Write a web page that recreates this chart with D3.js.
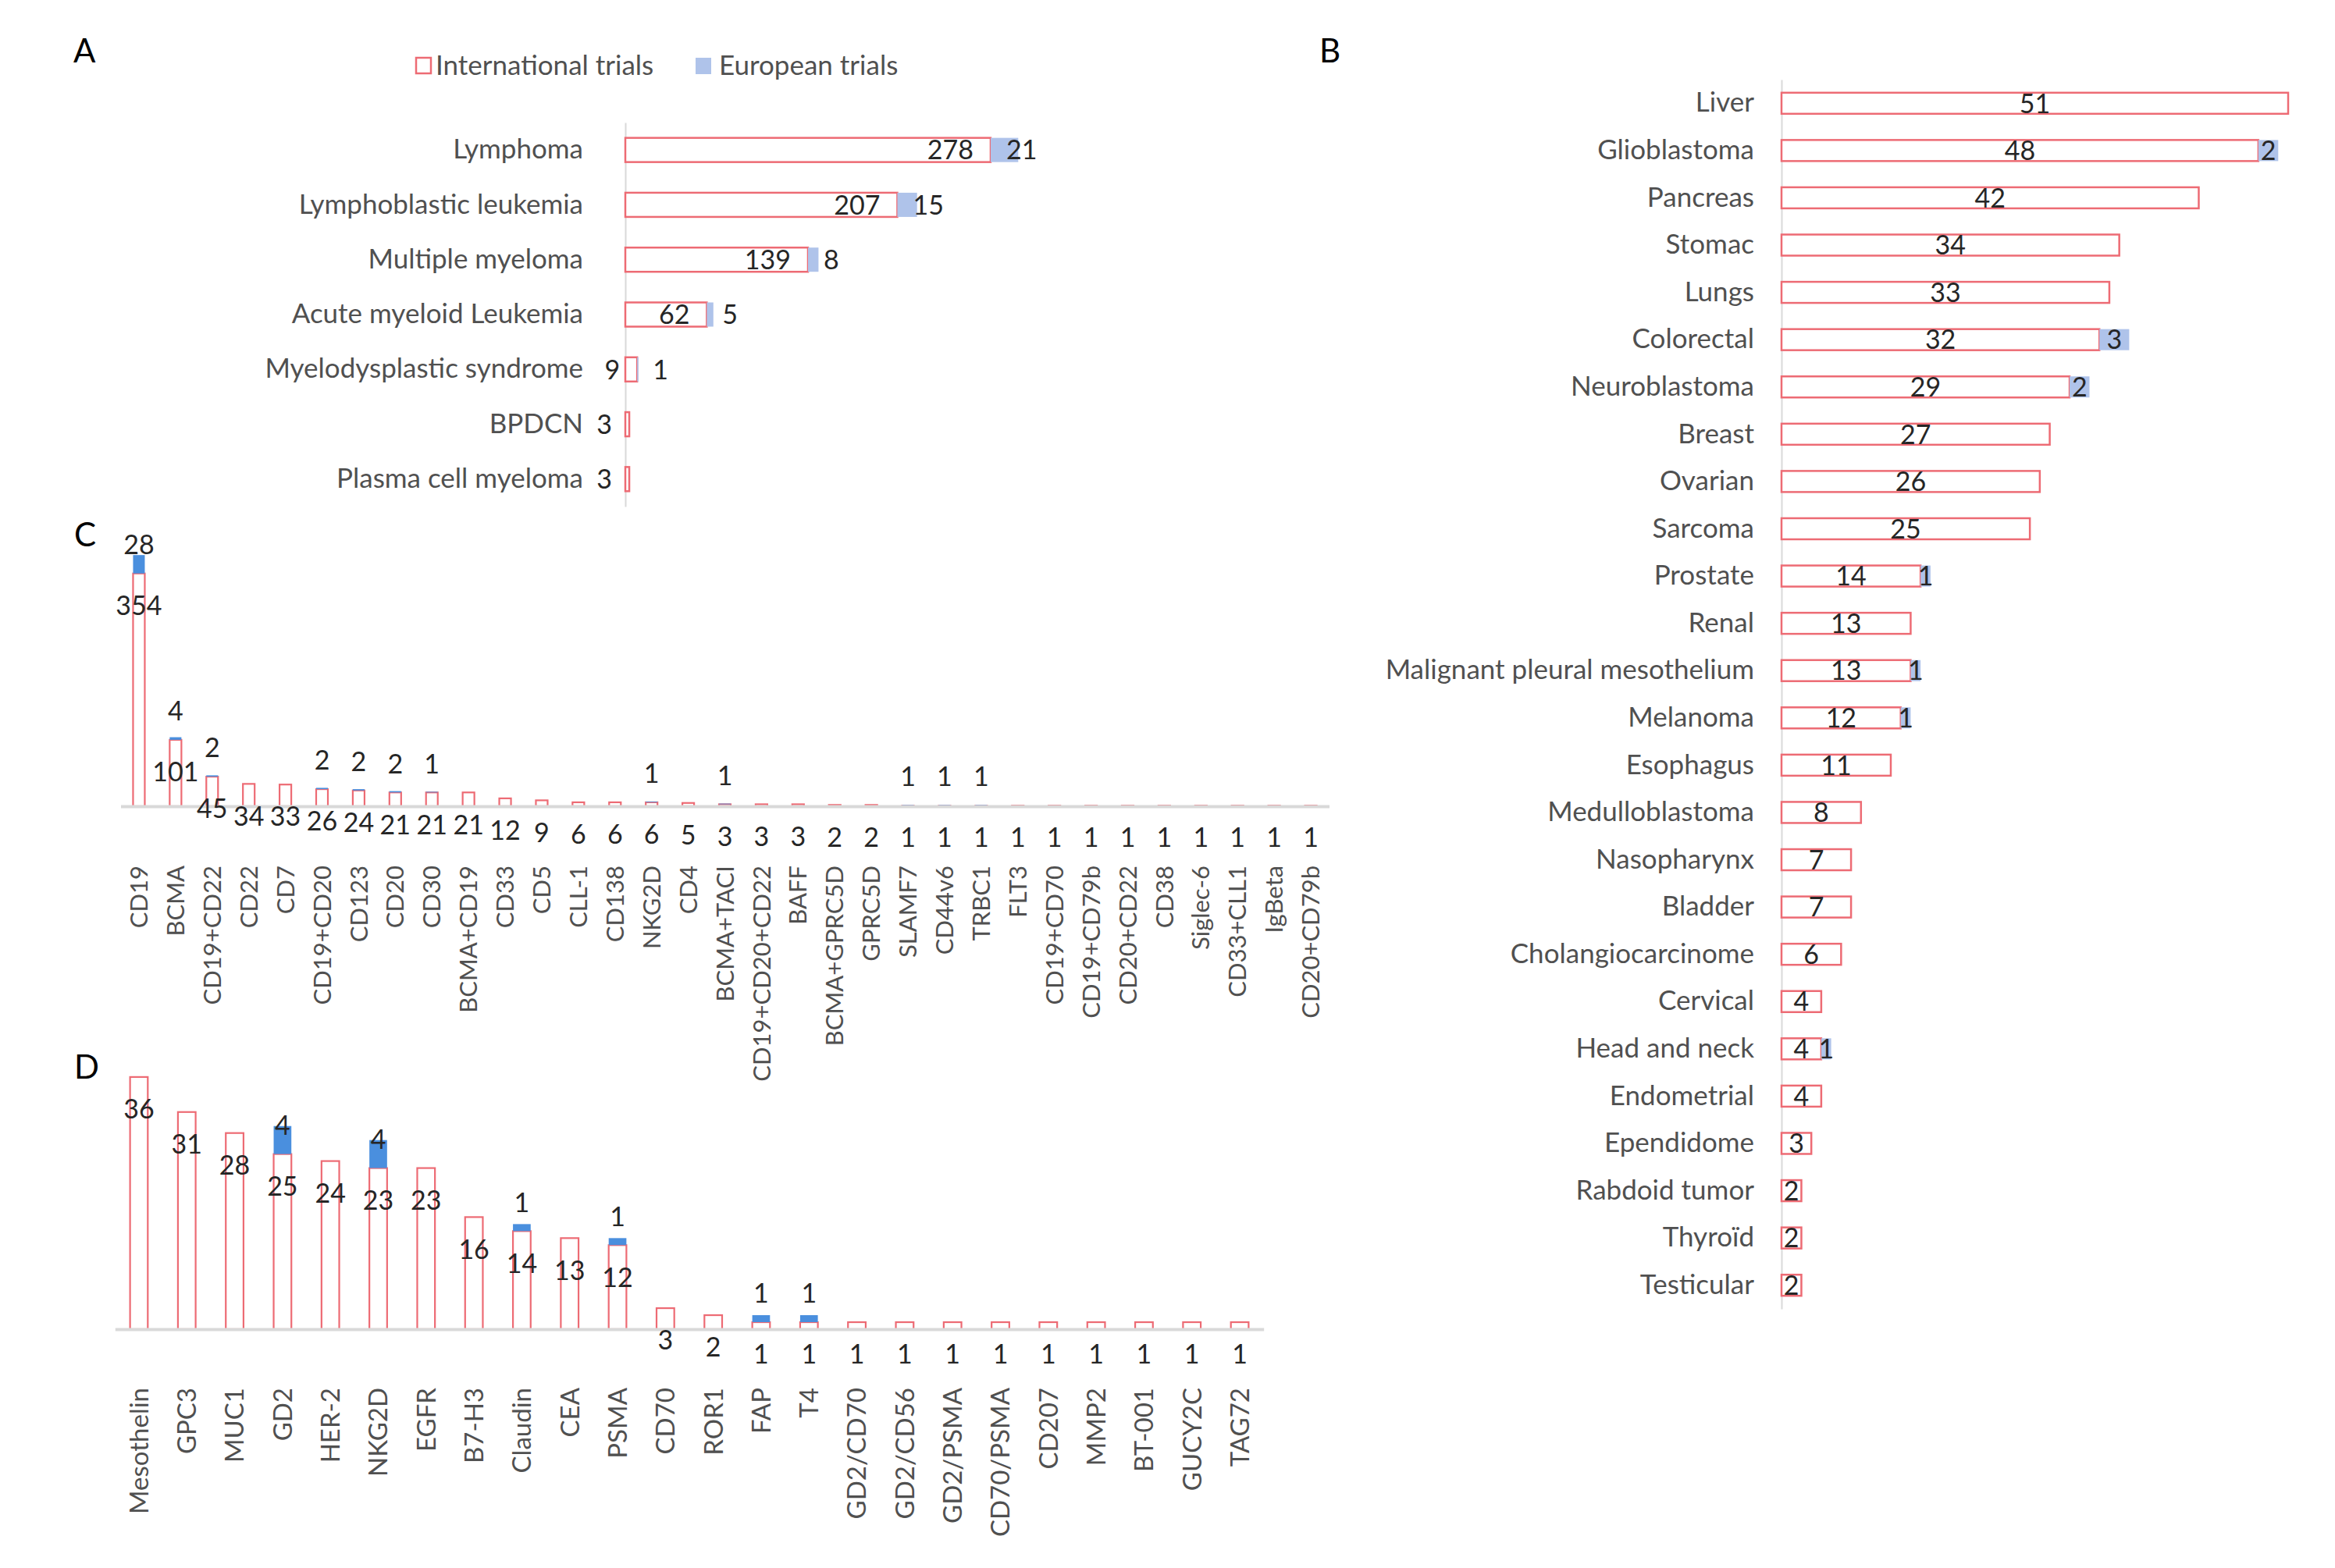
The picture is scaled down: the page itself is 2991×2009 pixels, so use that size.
<!DOCTYPE html>
<html>
<head>
<meta charset="utf-8">
<script src="https://cdn.jsdelivr.net/npm/d3@7"></script>
<style>
  body { margin: 0; background: #fff; }
  text { font-family: Lato, "Open Sans", sans-serif; }
</style>
</head>
<body>
<script>
// ---- data ----
var catsA = ["Lymphoma", "Lymphoblastic leukemia", "Multiple myeloma", "Acute myeloid Leukemia",
             "Myelodysplastic syndrome", "BPDCN", "Plasma cell myeloma"];
var intlA = [278, 207, 139, 62, 9, 3, 3];
var euroA = [21, 15, 8, 5, 1, 0, 0];

var catsB = ["Liver", "Glioblastoma", "Pancreas", "Stomac", "Lungs", "Colorectal", "Neuroblastoma",
             "Breast", "Ovarian", "Sarcoma", "Prostate", "Renal", "Malignant pleural mesothelium",
             "Melanoma", "Esophagus", "Medulloblastoma", "Nasopharynx", "Bladder", "Cholangiocarcinome",
             "Cervical", "Head and neck", "Endometrial", "Ependidome", "Rabdoid tumor", "Thyroïd", "Testicular"];
var intlB = [51, 48, 42, 34, 33, 32, 29, 27, 26, 25, 14, 13, 13, 12, 11, 8, 7, 7, 6, 4, 4, 4, 3, 2, 2, 2];
var euroB = [0, 2, 0, 0, 0, 3, 2, 0, 0, 0, 1, 0, 1, 1, 0, 0, 0, 0, 0, 0, 1, 0, 0, 0, 0, 0];

var catsC = ["CD19", "BCMA", "CD19+CD22", "CD22", "CD7", "CD19+CD20", "CD123", "CD20", "CD30",
             "BCMA+CD19", "CD33", "CD5", "CLL-1", "CD138", "NKG2D", "CD4", "BCMA+TACI",
             "CD19+CD20+CD22", "BAFF", "BCMA+GPRC5D", "GPRC5D", "SLAMF7", "CD44v6", "TRBC1", "FLT3",
             "CD19+CD70", "CD19+CD79b", "CD20+CD22", "CD38", "Siglec-6", "CD33+CLL1", "IgBeta", "CD20+CD79b"];
var intlC = [354, 101, 45, 34, 33, 26, 24, 21, 21, 21, 12, 9, 6, 6, 6, 5, 3, 3, 3, 2, 2,
             1, 1, 1, 1, 1, 1, 1, 1, 1, 1, 1, 1];
var euroC = [28, 4, 2, 0, 0, 2, 2, 2, 1, 0, 0, 0, 0, 0, 1, 0, 1, 0, 0, 0, 0,
             1, 1, 1, 0, 0, 0, 0, 0, 0, 0, 0, 0];

var catsD = ["Mesothelin", "GPC3", "MUC1", "GD2", "HER-2", "NKG2D", "EGFR", "B7-H3", "Claudin", "CEA",
             "PSMA", "CD70", "ROR1", "FAP", "T4", "GD2/CD70", "GD2/CD56", "GD2/PSMA", "CD70/PSMA",
             "CD207", "MMP2", "BT-001", "GUCY2C", "TAG72"];
var intlD = [36, 31, 28, 25, 24, 23, 23, 16, 14, 13, 12, 3, 2, 1, 1, 1, 1, 1, 1, 1, 1, 1, 1, 1];
var euroD = [0, 0, 0, 4, 0, 4, 0, 0, 1, 0, 1, 0, 0, 1, 1, 0, 0, 0, 0, 0, 0, 0, 0, 0];

var legendLabels = ["International trials", "European trials"];

// ---- styles ----
var red = "#ED6B74";
var blueLight = "#AFC3EA";
var blueDark = "#4A8FDE";
var labelGrey = "#505050";
var numColor = "#262626";
var axisGrey = "#D9D9D9";

var w = 2991, h = 2009;
var svg = d3.select("body").append("svg")
    .attr("width", w)
    .attr("height", h);

function rows(cats, intl, euro) {
  return cats.map(function(c, i) { return { cat: c, intl: intl[i], euro: euro[i] }; });
}

// panel letters
svg.selectAll("text.panel")
   .data([["A", 94, 80], ["B", 1690, 80], ["C", 95, 700], ["D", 95, 1382]])
   .enter()
   .append("text")
   .attr("class", "panel")
   .attr("x", function(d) { return d[1]; })
   .attr("y", function(d) { return d[2]; })
   .attr("font-size", 42)
   .attr("fill", "#000")
   .text(function(d) { return d[0]; });

// ---- horizontal panels (A, B) ----
function horizontal(opt) {
  var data = rows(opt.cats, opt.intl, opt.euro);
  var y = d3.scaleBand().domain(opt.cats).range(opt.yRange);
  var x = d3.scaleLinear().domain(opt.xDomain).range(opt.xRange);
  var g = svg.append("g");
  var bh = opt.barH;

  var axis = g.append("g")
     .attr("transform", "translate(" + opt.xRange[0] + ",0)")
     .call(d3.axisLeft(y).tickSize(0).tickSizeOuter(0).tickPadding(opt.pad));
  axis.select(".domain").attr("stroke", axisGrey).attr("stroke-width", 2);
  axis.selectAll("text")
      .attr("font-family", "Lato, sans-serif")
      .attr("font-size", opt.fs)
      .attr("fill", labelGrey);

  g.selectAll("rect.intl")
   .data(data)
   .enter()
   .append("rect")
   .attr("x", x(0))
   .attr("y", function(d) { return y(d.cat) + y.bandwidth() / 2 - bh / 2; })
   .attr("width", function(d) { return x(d.intl) - x(0); })
   .attr("height", bh)
   .attr("fill", "#fff")
   .attr("stroke", red)
   .attr("stroke-width", 2.5);

  g.selectAll("rect.euro")
   .data(data.filter(function(d) { return d.euro > 0; }))
   .enter()
   .append("rect")
   .attr("x", function(d) { return x(d.intl); })
   .attr("y", function(d) { return y(d.cat) + y.bandwidth() / 2 - bh / 2; })
   .attr("width", function(d) { return x(d.intl + d.euro) - x(d.intl); })
   .attr("height", bh)
   .attr("fill", blueLight);

  g.selectAll("text.vi")
   .data(data)
   .enter()
   .append("text")
   .attr("text-anchor", opt.centered ? "middle" : "end")
   .attr("x", function(d) {
      return opt.centered ? (x(0) + x(d.intl)) / 2 : x(d.intl) - 22;
   })
   .attr("y", function(d) { return y(d.cat) + y.bandwidth() / 2; })
   .attr("dy", "0.36em")
   .attr("font-size", opt.nfs)
   .attr("fill", numColor)
   .text(function(d) { return d.intl; });

  g.selectAll("text.ve")
   .data(data.filter(function(d) { return d.euro > 0; }))
   .enter()
   .append("text")
   .attr("text-anchor", opt.centered ? "middle" : "start")
   .attr("x", function(d) {
      return opt.centered ? (x(d.intl) + x(d.intl + d.euro)) / 2 : x(d.intl) + 20;
   })
   .attr("y", function(d) { return y(d.cat) + y.bandwidth() / 2; })
   .attr("dy", "0.36em")
   .attr("font-size", opt.nfs)
   .attr("fill", numColor)
   .text(function(d) { return d.euro; });
}

horizontal({ cats: catsA, intl: intlA, euro: euroA, yRange: [157, 649],
             xDomain: [0, 300], xRange: [801, 1306], barH: 31, pad: 54, fs: 35, nfs: 34, centered: false });
horizontal({ cats: catsB, intl: intlB, euro: euroB, yRange: [102, 1677],
             xDomain: [0, 51], xRange: [2282, 2931], barH: 27, pad: 35, fs: 35, nfs: 34, centered: true });

// legend
var leg = svg.append("g");
leg.append("rect").attr("x", 533).attr("y", 74).attr("width", 19).attr("height", 20)
   .attr("fill", "#fff").attr("stroke", red).attr("stroke-width", 2.5);
leg.append("rect").attr("x", 891).attr("y", 74).attr("width", 20).attr("height", 21)
   .attr("fill", blueLight);
leg.selectAll("text")
   .data(legendLabels)
   .enter()
   .append("text")
   .attr("x", function(d, i) { return i === 0 ? 558 : 921; })
   .attr("y", 96)
   .attr("font-size", 35)
   .attr("fill", labelGrey)
   .text(function(d) { return d; });

// ---- vertical panels (C, D) ----
function vertical(opt) {
  var data = rows(opt.cats, opt.intl, opt.euro);
  var x = d3.scaleBand().domain(opt.cats).range(opt.xRange);
  var y = d3.scaleLinear().domain(opt.yDomain).range(opt.yRange);
  var g = svg.append("g");
  var bw = x.bandwidth() * opt.barFrac;
  var base = opt.yRange[0];

  g.selectAll("rect.intl")
   .data(data)
   .enter()
   .append("rect")
   .attr("x", function(d) { return x(d.cat) + x.bandwidth() / 2 - bw / 2; })
   .attr("y", function(d) { return y(d.intl); })
   .attr("width", bw)
   .attr("height", function(d) { return base - y(d.intl); })
   .attr("fill", "#fff")
   .attr("stroke", red)
   .attr("stroke-width", 2.2);

  g.selectAll("rect.euro")
   .data(data.filter(function(d) { return d.euro > 0; }))
   .enter()
   .append("rect")
   .attr("x", function(d) { return x(d.cat) + x.bandwidth() / 2 - bw / 2; })
   .attr("y", function(d) { return y(d.intl + d.euro); })
   .attr("width", bw)
   .attr("height", function(d) { return y(d.intl) - y(d.intl + d.euro); })
   .attr("fill", blueDark);

  var axis = g.append("g")
     .attr("transform", "translate(0," + base + ")")
     .call(d3.axisBottom(x).tickSize(0).tickSizeOuter(0));
  axis.select(".domain").attr("stroke", axisGrey).attr("stroke-width", 4);
  axis.selectAll("text")
      .attr("font-family", "'Liberation Sans', Arial, sans-serif")
      .attr("font-size", opt.fs)
      .attr("fill", labelGrey)
      .attr("text-anchor", "end")
      .attr("transform", "rotate(-90)")
      .attr("x", -opt.labelOff)
      .attr("y", 0)
      .attr("dy", "0.36em");

  g.selectAll("text.vi")
   .data(data)
   .enter()
   .append("text")
   .attr("text-anchor", "middle")
   .attr("x", function(d) { return x(d.cat) + x.bandwidth() / 2; })
   .attr("y", function(d) { return y(d.intl) + 41; })
   .attr("dy", "0.36em")
   .attr("font-size", 34)
   .attr("fill", numColor)
   .text(function(d) { return d.intl; });

  g.selectAll("text.ve")
   .data(data.filter(function(d) { return d.euro > 0; }))
   .enter()
   .append("text")
   .attr("text-anchor", "middle")
   .attr("x", function(d) { return x(d.cat) + x.bandwidth() / 2; })
   .attr("y", function(d) { return y(d.intl) - 37; })
   .attr("dy", "0.36em")
   .attr("font-size", 34)
   .attr("fill", numColor)
   .text(function(d) { return d.euro; });
}

vertical({ cats: catsC, intl: intlC, euro: euroC, xRange: [154.5, 1702.5],
           yDomain: [0, 400], yRange: [1033, 696], barFrac: 0.32, fs: 31, labelOff: 76 });
vertical({ cats: catsD, intl: intlD, euro: euroD, xRange: [147.3, 1618.7],
           yDomain: [0, 40], yRange: [1703, 1344], barFrac: 0.37, fs: 33, labelOff: 75 });
</script>
</body>
</html>
